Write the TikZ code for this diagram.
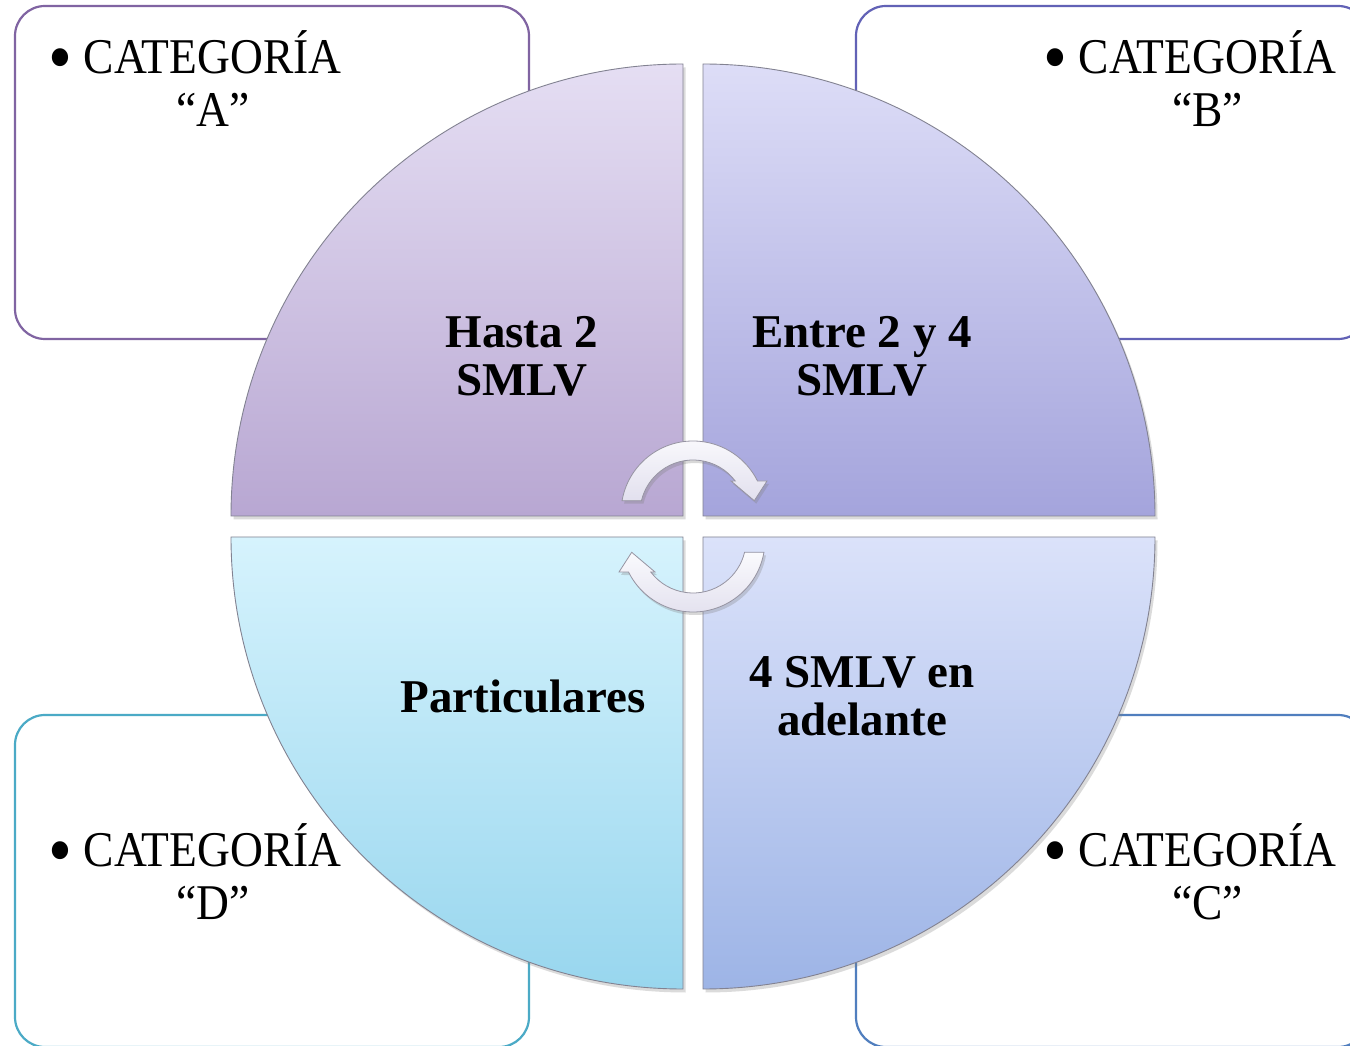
\documentclass[tikz,border=0pt]{standalone}
\usepackage{fontspec}
\setmainfont{Liberation Serif}
\newfontfamily\catfont[FakeStretch=0.91]{Liberation Serif}
\usetikzlibrary{shadows}

\definecolor{boxA}{RGB}{128,100,162}
\definecolor{boxB}{RGB}{98,98,182}
\definecolor{boxC}{RGB}{80,126,190}
\definecolor{boxD}{RGB}{75,170,198}
\definecolor{quadline}{RGB}{130,130,145}
\definecolor{tlTop}{RGB}{229,222,243}
\definecolor{tlBot}{RGB}{184,167,210}
\definecolor{trTop}{RGB}{221,221,247}
\definecolor{trBot}{RGB}{164,164,220}
\definecolor{blTop}{RGB}{214,243,253}
\definecolor{blBot}{RGB}{152,214,238}
\definecolor{brTop}{RGB}{219,226,250}
\definecolor{brBot}{RGB}{157,180,230}
\definecolor{arrowtop}{RGB}{250,250,253}
\definecolor{arrowbot}{RGB}{226,224,238}
\definecolor{arrowline}{RGB}{150,148,162}

\newcommand{\bigbul}{\raisebox{-8.5pt}{\scalebox{1.5}{\textbullet}}\hspace{11pt}}

\tikzset{
  catbox/.style={draw, line width=2.2pt, rounded corners=30pt},
  quad/.style={draw=quadline, line width=0.9pt,
    drop shadow={shadow xshift=2.5pt, shadow yshift=-3.5pt, opacity=0.28}},
  quadtext/.style={font=\fontsize{47}{48}\selectfont\bfseries, align=center, inner sep=0pt},
  cattext/.style={font=\catfont\fontsize{50}{53}\selectfont, inner sep=0pt, anchor=base west},
  cyclearrow/.style={draw=arrowline, line width=0.8pt, top color=arrowtop, bottom color=arrowbot,
    drop shadow={shadow xshift=2pt, shadow yshift=-3pt, opacity=0.3}},
}

\begin{document}
\begin{tikzpicture}[x=1pt, y=1pt]
  \useasboundingbox (0,0) rectangle (1350,1045);
  \clip (0,0) rectangle (1350,1045);
  \fill[white] (0,0) rectangle (1350,1045);

  % category boxes
  \draw[catbox, draw=boxA] (15,706) rectangle (529,1039);
  \draw[catbox, draw=boxB] (856,706) rectangle (1368,1039);
  \draw[catbox, draw=boxD] (15,-2) rectangle (529,330);
  \draw[catbox, draw=boxC] (856,-2) rectangle (1368,330);

  % quadrants
  \path[quad, top color=tlTop, bottom color=tlBot]
    (683,529) -- (231,529) arc[start angle=180, end angle=90, radius=452] -- cycle;
  \path[quad, top color=trTop, bottom color=trBot]
    (703,529) -- (703,981) arc[start angle=90, end angle=0, radius=452] -- cycle;
  \path[quad, top color=blTop, bottom color=blBot]
    (683,508) -- (683,56) arc[start angle=270, end angle=180, radius=452] -- cycle;
  \path[quad, top color=brTop, bottom color=brBot]
    (703,508) -- (1155,508) arc[start angle=0, end angle=-90, radius=452] -- cycle;

  % circular arrows
  \path[cyclearrow, shift={(693,532)}]
    (170.2:72) arc[start angle=170.2, end angle=26.4, radius=72]
    -- (74,32) -- (61.3,12.3) -- (38,32) -- (37.3:53)
    arc[start angle=37.3, end angle=166.6, radius=53] -- cycle;
  \path[cyclearrow, shift={(693,505)}, rotate=180]
    (170.2:72) arc[start angle=170.2, end angle=26.4, radius=72]
    -- (74,32) -- (61.3,12.3) -- (38,32) -- (37.3:53)
    arc[start angle=37.3, end angle=166.6, radius=53] -- cycle;

  % quadrant texts
  \node[quadtext] (tA) at (522,689) {Hasta 2\\SMLV};
  \node[quadtext] (tB) at (862,689) {Entre 2 y 4\\SMLV};
  \node[quadtext] (tD) at (523,349) {Particulares};
  \node[quadtext] (tC) at (862,349) {4 SMLV en\\adelante};

  % category texts
  \node[cattext] (cA) at (48.7,971) {\bigbul\begin{tabular}[t]{@{}c@{}}CATEGORÍA\\“A”\end{tabular}};
  \node[cattext] (cB) at (1043.7,971) {\bigbul\begin{tabular}[t]{@{}c@{}}CATEGORÍA\\“B”\end{tabular}};
  \node[cattext] (cD) at (48.7,178) {\bigbul\begin{tabular}[t]{@{}c@{}}CATEGORÍA\\“D”\end{tabular}};
  \node[cattext] (cC) at (1043.7,178) {\bigbul\begin{tabular}[t]{@{}c@{}}CATEGORÍA\\“C”\end{tabular}};
\end{tikzpicture}
\end{document}
